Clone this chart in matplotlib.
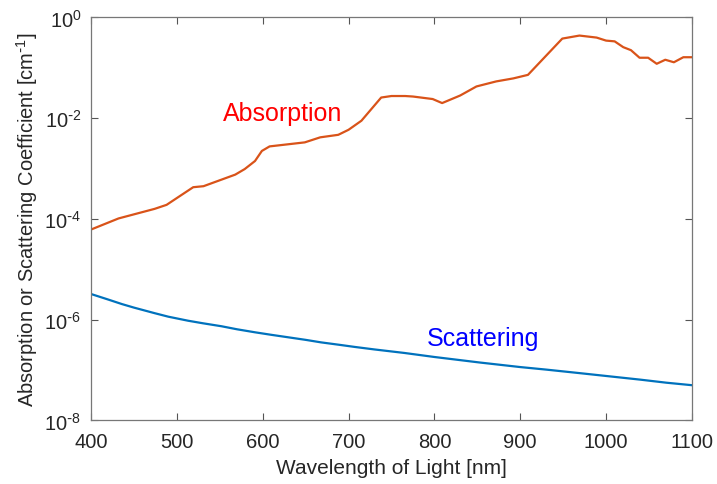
import matplotlib.pyplot as plt
from matplotlib.ticker import FuncFormatter
import numpy as np

plt.rcParams['font.family'] = ['Liberation Sans', 'DejaVu Sans']
plt.rcParams['mathtext.default'] = 'regular'

# absorption coefficient (nm, log10 cm^-1)
abs_nm = [400, 432, 474, 488, 519, 531, 568, 579, 591, 599, 608, 649, 667, 688,
          700, 715, 738, 750, 766, 775, 798, 809, 830, 849, 872, 892, 909,
          949, 969, 989, 1000, 1010, 1020, 1029, 1039, 1049, 1059, 1069, 1079,
          1090, 1100]
abs_log = [-4.21, -3.99, -3.80, -3.72, -3.37, -3.35, -3.12, -3.01, -2.85, -2.65,
           -2.56, -2.48, -2.38, -2.33, -2.23, -2.05, -1.59, -1.56, -1.56, -1.57,
           -1.62, -1.70, -1.55, -1.37, -1.27, -1.21, -1.14, -0.42, -0.36, -0.40,
           -0.46, -0.475, -0.59, -0.65, -0.80, -0.80, -0.92, -0.84, -0.89, -0.79,
           -0.79]

# scattering coefficient
sca_nm = [400, 420, 436, 450, 474, 490, 513, 530, 552, 570, 591, 610, 630, 650,
          668, 690, 707, 730, 765, 800, 853, 900, 930, 969, 1040, 1070, 1100]
sca_log = [-5.49, -5.60, -5.69, -5.76, -5.87, -5.94, -6.02, -6.07, -6.13, -6.19,
           -6.25, -6.30, -6.35, -6.40, -6.45, -6.50, -6.54, -6.59, -6.66, -6.74,
           -6.85, -6.94, -6.99, -7.06, -7.19, -7.25, -7.30]

xticks = [400, 500, 600, 700, 800, 900, 1000, 1100]
yticks = [1e-8, 1e-6, 1e-4, 1e-2, 1e0]

abs_val = 10.0 ** np.array(abs_log)
sca_val = 10.0 ** np.array(sca_log)


def pow10(v, pos):
    e = int(round(np.log10(v)))
    if e < 0:
        return r'$10^{\text{-}%d}$' % (-e)
    return r'$10^{%d}$' % e


fig = plt.figure(figsize=(7.17, 4.85), dpi=100)
ax = fig.add_axes([0.127, 0.131, 0.838, 0.831])

ax.plot(abs_nm, abs_val, color='#D95319', lw=1.6)
ax.plot(sca_nm, sca_val, color='#0072BD', lw=1.6)

ax.set_yscale('log')
ax.set_xlim(400, 1100)
ax.set_ylim(1e-8, 1e0)
ax.set_xticks(xticks)
ax.set_yticks(yticks)
ax.yaxis.set_major_formatter(FuncFormatter(pow10))
ax.minorticks_off()
ax.tick_params(direction='in', top=True, right=True, length=5, width=0.8,
               color='#555555', labelsize=14.5, labelcolor='#262626')
ax.tick_params(axis='x', pad=8)
ax.tick_params(axis='y', pad=7)
for s in ax.spines.values():
    s.set_color('#777777')
    s.set_linewidth(0.9)

ax.set_xlabel('Wavelength of Light [nm]', fontsize=15, color='#262626',
              labelpad=5)
ax.set_ylabel(r'Absorption or Scattering Coefficient [cm$^{\text{-}1}$]',
              fontsize=14.5, color='#262626', labelpad=3)

ax.text(623, 10 ** -1.90, 'Absorption', color='#FF0000', fontsize=18,
        ha='center', va='center')
ax.text(857, 10 ** -6.37, 'Scattering', color='#0000FF', fontsize=18,
        ha='center', va='center')

fig.savefig('out.png', dpi=100)
